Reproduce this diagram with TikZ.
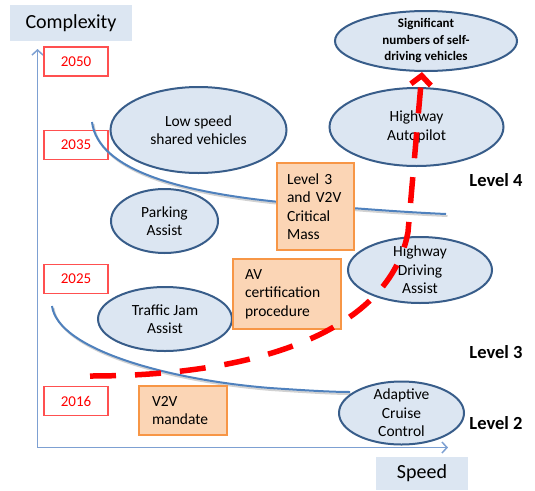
\documentclass[tikz,border=0pt]{standalone}
\usepackage{fontspec}
\setmainfont{Carlito}
\usetikzlibrary{shapes.geometric,arrows.meta}
\definecolor{bubblefill}{RGB}{220,230,242}
\definecolor{bubbleline}{RGB}{56,93,138}
\definecolor{notefill}{RGB}{251,213,181}
\definecolor{noteline}{RGB}{247,150,70}
\definecolor{axisblue}{RGB}{125,160,210}
\definecolor{curveblue}{RGB}{79,129,189}
\definecolor{yearred}{RGB}{255,80,80}
\tikzset{
  bubble/.style={ellipse,draw=bubbleline,fill=bubblefill,line width=2pt,
    inner sep=0pt,align=center,font=\fontsize{15.5}{18.5}\selectfont},
  note/.style={rectangle,draw=noteline,fill=notefill,line width=1.2pt,
    inner xsep=10pt,inner ysep=0pt,align=left,font=\fontsize{15.5}{18.5}\selectfont},
  year/.style={rectangle,draw=yearred,fill=white,line width=1.2pt,
    minimum width=64pt,minimum height=29pt,text=red,font=\fontsize{15}{18}\selectfont},
  axislabel/.style={rectangle,fill=bubblefill,inner sep=0pt,font=\fontsize{20}{24}\selectfont},
  level/.style={font=\bfseries\fontsize{18.5}{22}\selectfont},
  trend/.style={draw=curveblue,line width=2pt},
  trendshadow/.style={draw=black!35,line width=2pt,opacity=0.5,shift={(1.5,2)}},
  roadmap/.style={draw=red,line width=5.5pt,dash pattern=on 26pt off 19pt,
    -{Straight Barb[length=9pt,width=20pt]}},
}
\begin{document}
\begin{tikzpicture}[x=1pt,y=-1pt]
\useasboundingbox (0,0) rectangle (535,490);
% axes and their labels:
\node[axislabel,minimum width=122pt,minimum height=36pt] (complexity) at (71,23) {Complexity};
\node[axislabel,minimum width=92pt,minimum height=33pt] (speed) at (422,473.5) {Speed};
\coordinate (origin) at (37.5,447.5);
\draw[axisblue,line width=1.5pt,-{Straight Barb[length=5pt,width=11pt]}] (origin) -- (37.5,49);
\draw[axisblue,line width=1.5pt,-{Straight Barb[length=5pt,width=11pt]}] (origin) -- (448,447.5);
% years:
\node[year] (y2050) at (76,61.5) {2050};
\node[year] (y2035) at (76,145) {2035};
\node[year] (y2025) at (76,279) {2025};
\node[year] (y2016) at (76,401) {2016};
% level boundaries:
\draw[trendshadow] (92,122) .. controls (98,170) and (180,193) .. (290,203)
  .. controls (350,208) and (400,212) .. (446,214);
\draw[trend] (92,122) .. controls (98,170) and (180,193) .. (290,203)
  .. controls (350,208) and (400,212) .. (446,214);
\draw[trendshadow] (52,306) .. controls (58,350) and (170,380) .. (270,388)
  .. controls (300,390) and (330,392) .. (350,392);
\draw[trend] (52,306) .. controls (58,350) and (170,380) .. (270,388)
  .. controls (300,390) and (330,392) .. (350,392);
% functions:
\node[bubble,minimum width=182pt,minimum height=60pt,inner ysep=-8pt,
  font=\bfseries\fontsize{13}{16.5}\selectfont] (selfdriving) at (426,41)
  {Significant\\numbers of self-\\driving vehicles};
\node[bubble,minimum width=176pt,minimum height=86pt] (lowspeed) at (198.5,130) {Low speed\\shared vehicles};
\node[bubble,minimum width=174pt,minimum height=78pt] (autopilot) at (416.5,127) {Highway\\Autopilot};
\node[bubble,minimum width=107pt,minimum height=64pt] (parking) at (164.5,221) {Parking\\Assist};
\node[bubble,minimum width=144pt,minimum height=66pt,inner ysep=-5pt] (driving) at (420,270) {Highway\\Driving\\Assist};
\node[bubble,minimum width=134pt,minimum height=64pt] (trafficjam) at (165,319) {Traffic Jam\\Assist};
\node[bubble,minimum width=125pt,minimum height=63pt,inner ysep=-6pt] (cruise) at (401.5,413) {Adaptive\\Cruise\\Control};
% milestones:
\node[note,minimum width=77pt,minimum height=87pt,text width=57pt] (critical) at (315.5,206.5)
  {Level 3\\and V2V\\Critical\\Mass};
\node[note,minimum width=108pt,minimum height=70pt,inner xsep=12pt,text width=84pt] (certification) at (287,294)
  {AV\\certification\\procedure};
\node[note,minimum width=88pt,minimum height=49pt,inner xsep=13pt,text width=62pt] (mandate) at (183,410.5)
  {V2V\\mandate};
% levels:
\node[level] (level4) at (496,180) {Level 4};
\node[level] (level3) at (496,352) {Level 3};
\node[level] (level2) at (496,423) {Level 2};
% roadmap:
\coordinate (start) at (90,376);
\draw[roadmap] (start) .. controls (260,376) and (390,330) .. (408,232) -- ([xshift=-4pt]selfdriving.south);
\end{tikzpicture}
\end{document}
